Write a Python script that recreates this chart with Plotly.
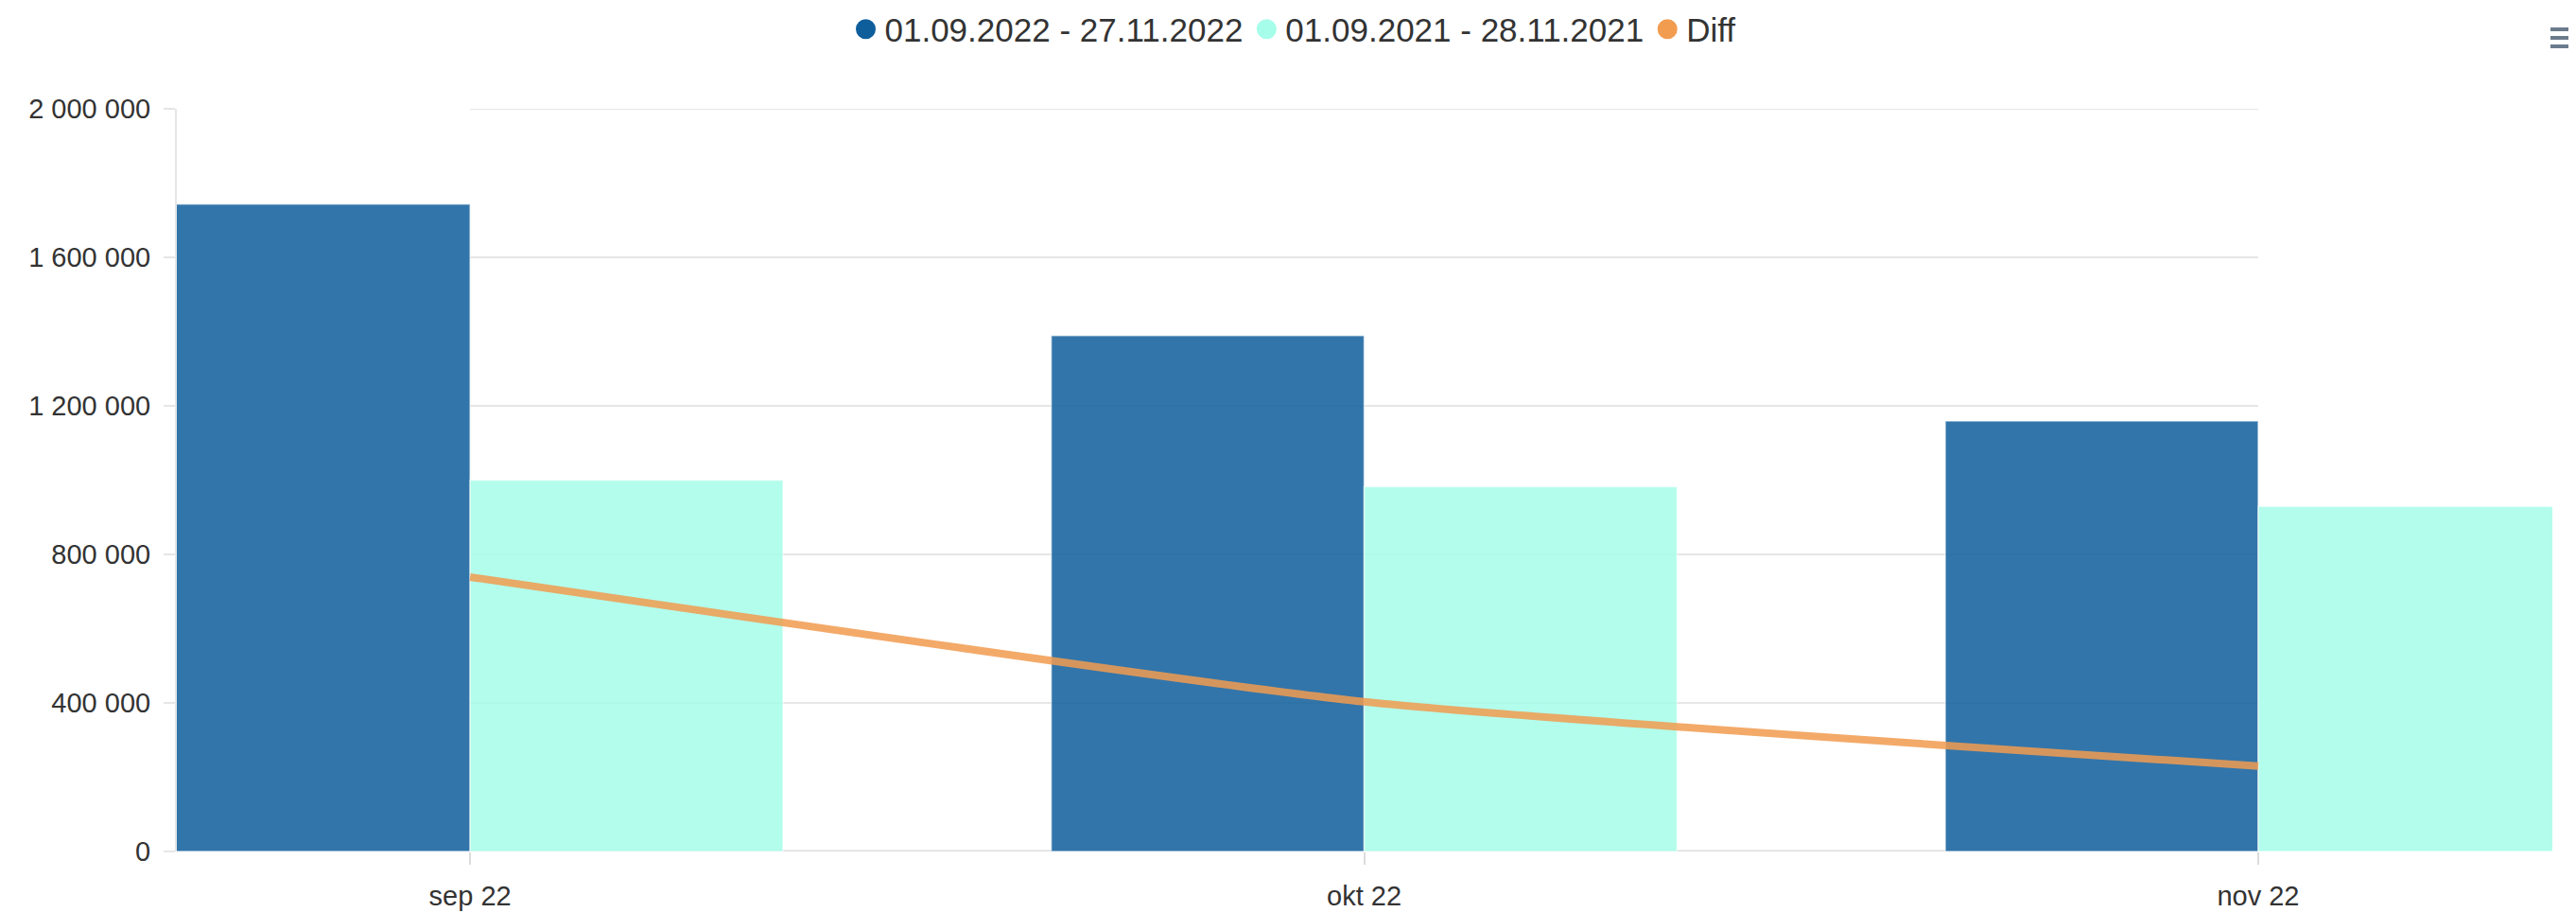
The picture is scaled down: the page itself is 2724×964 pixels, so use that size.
import plotly.graph_objects as go

categories = ["sep 22", "okt 22", "nov 22"]
series_2022 = [1743000, 1389000, 1159000]
series_2021 = [1000000, 982000, 929000]
diff_values = [739000, 403000, 230000]
name_2022 = "01.09.2022 - 27.11.2022"
name_2021 = "01.09.2021 - 28.11.2021"
name_diff = "Diff"
y_ticks = [0, 400000, 800000, 1200000, 1600000, 2000000]

# the page body adds an 8px offset; work in page pixels and convert
OFF = 8
W, H = 2724 - OFF, 964 - OFF
L, R, T, B = 187 - OFF, 25, 115 - OFF, 64
PW, PH = W - L - R, H - T - B

def px_x(p):
    return (p - OFF - L) / PW

def px_y(p):
    return (H - B - (p - OFF)) / PH

C_DARK = "#0f5e9c"
C_LIGHT = "#a6fde9"
C_DIFF = "#f29c50"
FONT = "Liberation Sans, Arial, Helvetica, sans-serif"

fig = go.Figure()
fig.add_trace(go.Bar(x=categories, y=series_2022, name=name_2022,
                     marker=dict(color=C_DARK, line=dict(color="rgba(255,255,255,0.6)", width=1.5)),
                     opacity=0.85, showlegend=False))
fig.add_trace(go.Bar(x=categories, y=series_2021, name=name_2021,
                     marker=dict(color=C_LIGHT, line=dict(color="rgba(255,255,255,0.6)", width=1.5)),
                     opacity=0.85, showlegend=False))
fig.add_trace(go.Scatter(x=categories, y=diff_values, name=name_diff, mode="lines",
                         line=dict(color=C_DIFF, width=8, shape="spline", smoothing=0.5),
                         opacity=0.85, showlegend=False))

# legend entries with round markers
for nm, col in [(name_2022, C_DARK), (name_2021, C_LIGHT), (name_diff, C_DIFF)]:
    fig.add_trace(go.Scatter(x=[None], y=[None], mode="markers", name=nm,
                             marker=dict(symbol="circle", size=24, color=col,
                                         line=dict(color=col, width=5))))

shapes = []
for v in y_ticks:
    shapes.append(dict(type="line", xref="x", yref="y", x0=categories[0], x1=categories[-1],
                       y0=v, y1=v, layer="below",
                       line=dict(color="#dedede" if v == 0 else "#e6e6e6", width=3 if v == 0 else 2)))
# export menu icon
for yy in (31, 40, 49):
    shapes.append(dict(type="line", xref="paper", yref="paper", x0=px_x(2697), x1=px_x(2726),
                       y0=px_y(yy), y1=px_y(yy), line=dict(color="#6b7b8c", width=4)))

fig.update_layout(
    width=W, height=H,
    margin=dict(l=L, r=R, t=T, b=B, autoexpand=False),
    paper_bgcolor="white", plot_bgcolor="white",
    barmode="group", bargap=0.3, bargroupgap=0,
    separators=". ",
    font=dict(family=FONT, color="#333333", size=29),
    legend=dict(orientation="h", x=px_x(1368), xanchor="center", y=px_y(31), yanchor="middle",
                font=dict(size=35, color="#333333"), itemwidth=30, tracegroupgap=0,
                bgcolor="rgba(0,0,0,0)"),
    shapes=shapes,
    xaxis=dict(type="category", range=[-0.328, 2.329], showgrid=False, zeroline=False,
               showline=False, ticks="outside", ticklen=13, tickwidth=2, tickcolor="#dcdcdc",
               tickfont=dict(size=29, color="#333333"), ticklabelstandoff=8),
    yaxis=dict(range=[0, 2000000], tickvals=y_ticks, tickformat=",d", showgrid=False,
               zeroline=False, showline=True, linecolor="#e6e6e6", linewidth=2,
               ticks="outside", ticklen=12, tickwidth=2, tickcolor="#e6e6e6",
               tickfont=dict(size=29, color="#333333"), ticklabelstandoff=8),
)

fig.write_html("out.html")
